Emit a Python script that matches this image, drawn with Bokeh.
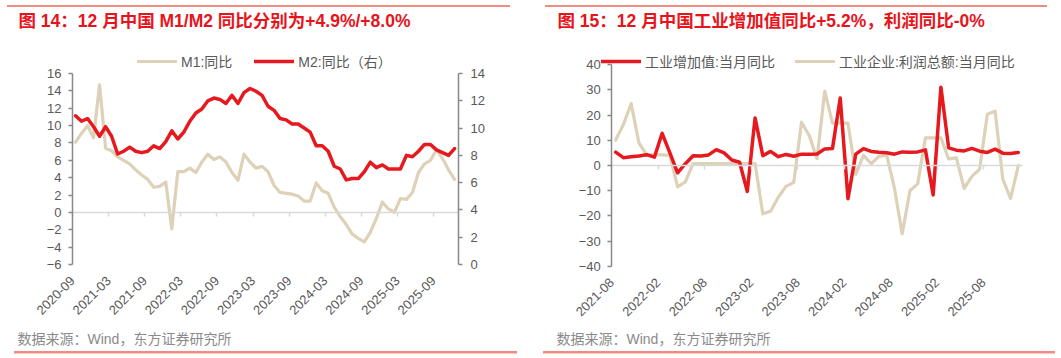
import math
from bokeh.plotting import figure
from bokeh.models import Range1d, LinearAxis, FixedTicker, Legend, LegendItem, Label
from bokeh.layouts import row
from bokeh.embed import file_html
from bokeh.resources import INLINE

# ---------------- data ----------------
# Left: monthly 2020-09 .. 2025-12
m1_yoy = [8.1, 9.1, 10.0, 8.6,
          14.7, 7.4, 7.1, 6.4, 6.0, 5.6, 4.9, 4.3, 3.8, 2.9, 3.0, 3.5,
          -1.9, 4.7, 4.7, 5.1, 4.6, 5.8, 6.7, 6.1, 6.4, 5.8, 4.6, 3.7,
          6.7, 5.8, 5.1, 5.3, 4.7, 3.1, 2.3, 2.2, 2.1, 1.9, 1.3, 1.3,
          3.4, 2.5, 2.2, 0.6, -0.5, -1.4, -2.5, -3.0, -3.4, -2.3, -0.7, 1.2,
          0.4, 0.0, 1.6, 1.5, 2.3, 4.6, 5.6, 6.0, 7.2, 6.2, 4.9, 3.8]
m2_yoy = [10.9, 10.5, 10.7, 10.1,
          9.4, 10.1, 9.4, 8.1, 8.3, 8.6, 8.3, 8.2, 8.3, 8.7, 8.5, 9.0,
          9.8, 9.2, 9.7, 10.5, 11.1, 11.4, 12.0, 12.2, 12.1, 11.8, 12.4, 11.8,
          12.6, 12.9, 12.7, 12.4, 11.6, 11.3, 10.7, 10.6, 10.3, 10.3, 10.0, 9.7,
          8.7, 8.7, 8.3, 7.2, 7.0, 6.2, 6.3, 6.3, 6.8, 7.5, 7.1, 7.3,
          7.0, 7.0, 7.0, 8.0, 7.9, 8.3, 8.8, 8.8, 8.4, 8.2, 8.0, 8.5]
left_tick_labels = ["2020-09", "2021-03", "2021-09", "2022-03", "2022-09", "2023-03",
                    "2023-09", "2024-03", "2024-09", "2025-03", "2025-09"]

# Right: monthly 2021-08 .. 2025-12
iva_yoy = [5.3, 3.1, 3.5, 3.8, 4.3,
           3.3, 12.8, 5.0, -2.9, 0.7, 3.9, 3.8, 4.2, 6.3, 5.0, 2.2, 1.3,
           -10.3, 18.9, 3.9, 5.6, 3.5, 4.4, 3.7, 4.5, 4.5, 4.6, 6.6, 6.8,
           26.8, -13.2, 4.5, 6.7, 5.6, 5.3, 5.1, 4.5, 5.4, 5.3, 5.4, 6.2,
           -11.7, 31.1, 7.0, 6.1, 5.8, 6.8, 5.7, 5.2, 6.5, 4.9, 4.8, 5.2]
profit_yoy = [10.1, 16.3, 24.6, 9.0, 4.2,
              4.2, 4.2, 4.0, -8.5, -6.5, 0.8, 0.8, 0.8, 0.8, 0.8, 0.8, 0.8,
              0.8, 0.8, -19.2, -18.2, -12.6, -8.3, -6.7, 17.2, 11.9, 2.7, 29.5, 16.8,
              16.8, 16.8, -3.5, 4.0, 0.7, 3.6, 4.1, -9.0, -27.1, -10.0, -7.3, 11.0,
              11.0, 11.0, 2.6, 3.0, -9.1, -4.3, -1.5, 20.4, 21.6, -5.5, -13.1, 0.0]
right_tick_labels = ["2021-08", "2022-02", "2022-08", "2023-02", "2023-08",
                     "2024-02", "2024-08", "2025-02", "2025-08"]

title_left = "图 14：12 月中国 M1/M2 同比分别为+4.9%/+8.0%"
title_right = "图 15：12 月中国工业增加值同比+5.2%，利润同比-0%"
source_text = "数据来源：Wind，东方证券研究所"

# ---------------- style ----------------
RED = "#e6191e"
BEIGE = "#ddd1b7"
AXIS = "#898989"
LBL = "#595959"
ZERO = "#d9d9d9"
SEP = "#f28b82"
FONT = "Liberation Sans, Noto Sans CJK SC"
TITLE_RED = "#e8141b"
SRC = "#8a8a8a"

H = 358
W1 = 530
W2 = 1061 - W1


def axis_map(v_a, p_a, v_b, p_b):
    k = (v_b - v_a) / (p_b - p_a)
    return lambda p: v_a + (p - p_a) * k


def make_fig(w, fx, fy, page_x0, seps):
    p = figure(width=w, height=H, x_range=Range1d(fx(page_x0), fx(page_x0 + w)),
               y_range=Range1d(fy(H), fy(0)), x_axis_type=None, y_axis_type=None,
               title=None, output_backend="svg", toolbar_location=None, min_border=0)
    p.grid.visible = False
    p.outline_line_color = None
    p.background_fill_color = None
    p.border_fill_color = None
    grads = ", ".join(f"linear-gradient({SEP},{SEP}) {x}px {y}px / {wd}px {ht}px no-repeat"
                      for (x, y, wd, ht) in seps)
    p.styles = {"background": grads}
    return p


def add_yaxis(p, side, loc, ticks, bounds, standoff, range_name="default"):
    ax = LinearAxis(fixed_location=loc, y_range_name=range_name,
                    ticker=FixedTicker(ticks=ticks), bounds=bounds,
                    axis_line_color=AXIS, axis_line_width=1.5,
                    major_tick_line_color=AXIS, major_tick_line_width=1.5,
                    major_tick_out=4, major_tick_in=0, minor_tick_line_color=None,
                    major_label_text_color=LBL, major_label_text_font=FONT,
                    major_label_text_font_size="13px", major_label_standoff=standoff)
    p.add_layout(ax, side)


def add_x_axes(p, ticks, labels, label_loc, xend):
    lab = LinearAxis(fixed_location=label_loc, ticker=FixedTicker(ticks=ticks),
                     major_label_overrides={t: s for t, s in zip(ticks, labels)},
                     major_label_orientation=math.pi / 4,
                     axis_line_color=None, major_tick_line_color=None,
                     minor_tick_line_color=None, major_tick_out=0, major_tick_in=0,
                     major_label_standoff=14,
                     major_label_text_color=LBL, major_label_text_font=FONT,
                     major_label_text_font_size="13px")
    p.add_layout(lab, "below")
    zero = LinearAxis(fixed_location=0, ticker=FixedTicker(ticks=ticks), bounds=(0, xend),
                      major_label_overrides={t: "" for t in ticks},
                      major_label_text_font_size="0px", major_label_standoff=0,
                      axis_line_color=ZERO, axis_line_width=1.5,
                      major_tick_line_color=ZERO, major_tick_line_width=1.5,
                      major_tick_out=4, major_tick_in=0, minor_tick_line_color=None)
    p.add_layout(zero, "below")


def add_texts(p, fx, fy, title, tx, sx):
    p.add_layout(Label(x=fx(tx), y=fy(20), text=title, text_color=TITLE_RED, text_font=FONT,
                       text_font_size="17.5px", text_font_style="bold",
                       text_baseline="middle", text_align="left"))
    p.add_layout(Label(x=fx(sx), y=fy(338), text=source_text, text_color=SRC, text_font=FONT,
                       text_font_size="14px", text_baseline="middle", text_align="left"))


def legend(items, vx, spacing):
    return Legend(items=items, orientation="horizontal", location=(vx, H - 71),
                  glyph_width=40, glyph_height=14, label_height=14, label_standoff=4,
                  spacing=spacing, padding=0, margin=0, border_line_color=None,
                  background_fill_alpha=0, label_text_font=FONT,
                  label_text_font_size="14px", label_text_color=LBL)


# ---------------- left panel (page x 0..530) ----------------
fxL = axis_map(0, 72, 60, 433)        # month index from 2020-09 -> page px
fyL = axis_map(16, 73, -6, 264)       # M1 axis
fyL2 = axis_map(14, 73, 0, 264)       # M2 axis (right)
p1 = make_fig(W1, fxL, fyL, 0, [(7, 5, 503, 2), (14, 351, 503, 2.5)])
p1.extra_y_ranges = {"m2": Range1d(fyL2(H), fyL2(0))}

add_yaxis(p1, "left", 0, list(range(-6, 17, 2)), (-6, 16), 7)
add_yaxis(p1, "right", fxL(458), list(range(0, 15, 2)), (0, 14), 8, "m2")
add_x_axes(p1, [6 * k for k in range(len(left_tick_labels))], left_tick_labels, -6, fxL(458))

xs_left = [i + 0.5 for i in range(len(m1_yoy))]
r_m1 = p1.line(xs_left, m1_yoy, line_color=BEIGE, line_width=3.2, line_join="round", line_cap="round")
r_m2 = p1.line(xs_left, m2_yoy, y_range_name="m2", line_color=RED, line_width=3.5,
               line_join="round", line_cap="round")
p1.add_layout(legend([LegendItem(label="M1:同比", renderers=[r_m1]),
                      LegendItem(label="M2:同比（右）", renderers=[r_m2])], 137, 22))
add_texts(p1, fxL, fyL, title_left, 18, 17)

# ---------------- right panel (page x 530..1061) ----------------
fxR = axis_map(0, 611.3, 48, 983)     # month index from 2021-08 -> page px
fyR = axis_map(40, 64.3, -40, 265.7)
p2 = make_fig(W2, fxR, fyR, W1, [(545 - W1, 5, 502, 2), (543 - W1, 351, 512, 2.5)])

add_yaxis(p2, "left", 0, list(range(-40, 41, 10)), (-40, 40), 7)
add_x_axes(p2, [6 * k for k in range(len(right_tick_labels))], right_tick_labels, -40, fxR(1022))

xs_right = [i + 0.5 for i in range(len(iva_yoy))]
r_pf = p2.line(xs_right, profit_yoy, line_color=BEIGE, line_width=3.2, line_join="round", line_cap="round")
r_iva = p2.line(xs_right, iva_yoy, line_color=RED, line_width=3.5, line_join="round", line_cap="round")
p2.add_layout(legend([LegendItem(label="工业增加值:当月同比", renderers=[r_iva]),
                      LegendItem(label="工业企业:利润总额:当月同比", renderers=[r_pf])], 601 - W1, 20))
add_texts(p2, fxR, fyR, title_right, 557, 556)

layout = row(p1, p2)
open("out.html", "w").write(file_html(layout, INLINE, title="chart"))
